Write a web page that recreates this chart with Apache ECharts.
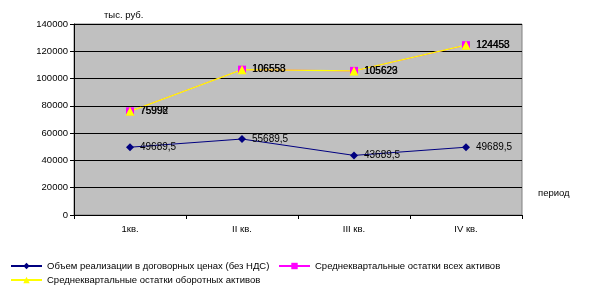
<!DOCTYPE html>
<html><head><meta charset="utf-8">
<script src="https://cdn.jsdelivr.net/npm/echarts@6/dist/echarts.min.js"></script>
<style>html,body{margin:0;padding:0;background:#fff}#c{width:605px;height:295px}</style>
</head><body><div id="c"></div>
<script>
const categories = ['1кв.', 'II кв.', 'III кв.', 'IV кв.'];
const seriesNames = ['Объем реализации в договорных ценах (без НДС)', 'Среднеквартальные остатки всех активов', 'Среднеквартальные остатки оборотных активов'];
const sales = [49689.5, 55689.5, 43689.5, 49689.5];
const allAssets = [75998, 106558, 105629, 124458];
const currentAssets = [75992, 106553, 105623, 124453];
const yTicks = [0, 20000, 40000, 60000, 80000, 100000, 120000, 140000];

const FF = 'Liberation Sans, Arial';
const fmt = v => String(v.value).replace('.', ',');
const lbl = {show: true, position: 'right', distance: 6, color: '#000', fontFamily: FF, fontSize: 10, formatter: fmt};
const legText = {fontSize: 9.5, fontFamily: FF, color: '#000'};
const chart = echarts.init(document.getElementById('c'));
chart.setOption({
  animation: false,
  grid: {left: 74, right: 83, top: 24, bottom: 80, show: true, backgroundColor: '#C0C0C0', borderColor: '#808080', borderWidth: 1},
  title: [
    {text: 'тыс. руб.', left: 99, top: 5, textStyle: {fontSize: 9.5, fontWeight: 'normal', fontFamily: FF, color: '#000'}},
    {text: 'период', left: 533, top: 183, textStyle: {fontSize: 9.5, fontWeight: 'normal', fontFamily: FF, color: '#000'}}
  ],
  legend: [
    {data: [seriesNames[0]], left: 10, top: 261, padding: 0, itemWidth: 31, itemHeight: 8, itemGap: 4, textStyle: legText},
    {data: [seriesNames[1]], left: 278, top: 261, padding: 0, itemWidth: 31, itemHeight: 8, textStyle: legText},
    {data: [seriesNames[2]], left: 10, top: 275, padding: 0, itemWidth: 31, itemHeight: 8, textStyle: legText}
  ],
  xAxis: {type: 'category', data: categories, boundaryGap: true,
    axisLine: {lineStyle: {color: '#000'}}, axisTick: {show: true, length: 4, lineStyle: {color: '#000'}},
    axisLabel: {color: '#000', fontSize: 9.5, fontFamily: FF, margin: 9}},
  yAxis: {type: 'value', min: yTicks[0], max: yTicks[yTicks.length - 1], interval: 20000,
    axisLine: {show: true, lineStyle: {color: '#000'}}, axisTick: {show: true, length: 4, lineStyle: {color: '#000'}},
    splitLine: {lineStyle: {color: '#000', width: 1}},
    axisLabel: {color: '#000', fontSize: 9.5, fontFamily: FF, margin: 6, formatter: v => String(v)}},
  series: [
    {name: seriesNames[0], type: 'line', data: sales, symbol: 'diamond', symbolSize: 8,
      lineStyle: {color: '#000080', width: 1}, itemStyle: {color: '#000080'}, label: lbl},
    {name: seriesNames[1], type: 'line', data: allAssets, symbol: 'rect', symbolSize: 8,
      lineStyle: {color: '#FF00FF', width: 1}, itemStyle: {color: '#FF00FF'}, label: lbl},
    {name: seriesNames[2], type: 'line', data: currentAssets, symbol: 'triangle', symbolSize: 9,
      lineStyle: {color: '#FFFF00', width: 1.3}, itemStyle: {color: '#FFFF00'}, label: lbl}
  ]
});
</script></body></html>
